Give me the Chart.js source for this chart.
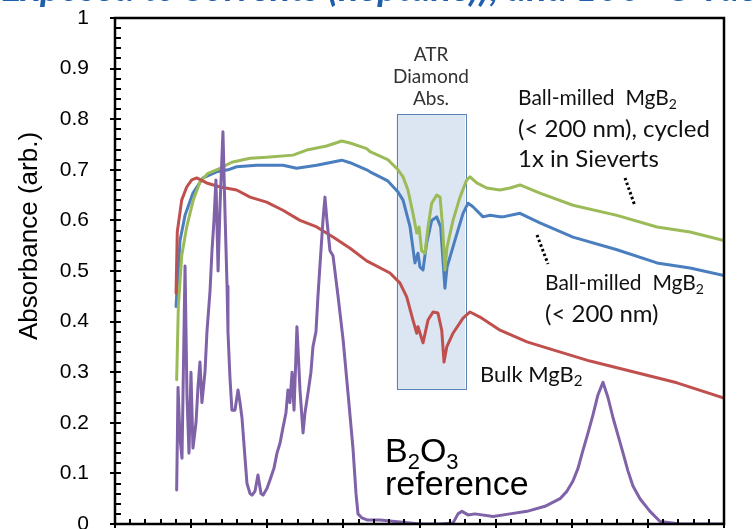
<!DOCTYPE html>
<html>
<head>
<meta charset="utf-8">
<script src="https://cdn.jsdelivr.net/npm/chart.js@4.4.0/dist/chart.umd.min.js"></script>
<style>
  html, body { margin: 0; padding: 0; background: #fff; overflow: hidden; }
</style>
</head>
<body>
<canvas id="myChart" width="755" height="529"></canvas>
<script>
// ---- spectra: wavenumber (cm-1) and absorbance (arb.) ----
const cycledWn = [405, 416, 438, 471, 514, 558, 611, 690, 767, 887, 996, 1169, 1259, 1390, 1489, 1544, 1653, 1675, 1792, 1859, 1892, 1924, 1957, 1982, 1997, 2014, 2036, 2056, 2080, 2113, 2135, 2152, 2167, 2181, 2220, 2266, 2310, 2332, 2376, 2441, 2529, 2594, 2660, 2791, 3008, 3297, 3560, 3777, 4000];
const cycledAbs = [0.285, 0.43, 0.53, 0.587, 0.64, 0.676, 0.693, 0.703, 0.715, 0.723, 0.725, 0.729, 0.739, 0.747, 0.757, 0.753, 0.742, 0.736, 0.72, 0.70, 0.686, 0.66, 0.614, 0.575, 0.587, 0.54, 0.535, 0.587, 0.634, 0.65, 0.646, 0.587, 0.502, 0.547, 0.60, 0.646, 0.68, 0.686, 0.674, 0.664, 0.66, 0.664, 0.670, 0.654, 0.63, 0.61, 0.587, 0.577, 0.56];

const milledWn = [401, 427, 460, 512, 578, 668, 742, 799, 931, 1103, 1193, 1325, 1489, 1544, 1653, 1675, 1792, 1859, 1892, 1938, 1970, 1990, 2003, 2023, 2047, 2080, 2113, 2139, 2154, 2167, 2181, 2233, 2286, 2319, 2351, 2417, 2463, 2529, 2548, 2660, 2791, 3008, 3297, 3560, 3777, 4000];
const milledAbs = [0.43, 0.56, 0.61, 0.654, 0.684, 0.696, 0.70, 0.706, 0.709, 0.709, 0.703, 0.709, 0.719, 0.714, 0.70, 0.696, 0.678, 0.656, 0.64, 0.587, 0.516, 0.535, 0.508, 0.502, 0.555, 0.60, 0.607, 0.587, 0.522, 0.466, 0.508, 0.561, 0.614, 0.634, 0.627, 0.607, 0.61, 0.607, 0.607, 0.614, 0.595, 0.567, 0.542, 0.516, 0.506, 0.491];

const bulkWn = [401, 409, 438, 471, 504, 537, 602, 690, 799, 887, 996, 1103, 1215, 1325, 1432, 1544, 1653, 1806, 1872, 1916, 1957, 1982, 1990, 2023, 2056, 2089, 2121, 2146, 2161, 2179, 2220, 2286, 2332, 2397, 2529, 2706, 2877, 3120, 3363, 3691, 4000];
const bulkAbs = [0.456, 0.577, 0.64, 0.666, 0.68, 0.684, 0.674, 0.666, 0.66, 0.646, 0.636, 0.62, 0.60, 0.587, 0.567, 0.545, 0.52, 0.496, 0.476, 0.449, 0.403, 0.377, 0.39, 0.358, 0.403, 0.419, 0.417, 0.383, 0.32, 0.35, 0.377, 0.407, 0.419, 0.409, 0.383, 0.36, 0.344, 0.322, 0.304, 0.279, 0.249];

const b2o3Wn = [405, 414, 427, 440, 460, 473, 486, 499, 512, 532, 545, 558, 571, 591, 604, 624, 637, 650, 663, 677, 690, 709, 723, 736, 742, 755, 768, 788, 808, 821, 834, 854, 867, 887, 900, 920, 939, 959, 972, 998, 1018, 1044, 1064, 1084, 1103, 1123, 1136, 1149, 1163, 1176, 1195, 1215, 1235, 1248, 1268, 1287, 1300, 1320, 1333, 1346, 1366, 1379, 1392, 1412, 1432, 1465, 1498, 1530, 1563, 1583, 1596, 1622, 1655, 1740, 1839, 1905, 2003, 2135, 2220, 2253, 2279, 2319, 2364, 2483, 2594, 2706, 2824, 2923, 2969, 3008, 3041, 3074, 3107, 3139, 3172, 3205, 3238, 3271, 3304, 3337, 3369, 3402, 3448, 3514, 3580, 3711, 4000];
const b2o3Abs = [0.067, 0.27, 0.17, 0.13, 0.51, 0.25, 0.14, 0.30, 0.15, 0.20, 0.27, 0.32, 0.24, 0.30, 0.38, 0.46, 0.54, 0.60, 0.68, 0.50, 0.63, 0.775, 0.61, 0.47, 0.38, 0.29, 0.225, 0.225, 0.265, 0.24, 0.21, 0.13, 0.08, 0.06, 0.057, 0.065, 0.097, 0.06, 0.057, 0.07, 0.087, 0.11, 0.14, 0.16, 0.19, 0.22, 0.265, 0.24, 0.30, 0.225, 0.39, 0.265, 0.18, 0.22, 0.26, 0.30, 0.35, 0.38, 0.45, 0.51, 0.60, 0.646, 0.60, 0.54, 0.53, 0.45, 0.365, 0.26, 0.15, 0.06, 0.02, 0.012, 0.008, 0.008, 0.005, 0.003, 0, 0, 0.002, 0.02, 0.025, 0.018, 0.02, 0.015, 0.02, 0.025, 0.035, 0.05, 0.065, 0.085, 0.11, 0.146, 0.18, 0.215, 0.255, 0.28, 0.25, 0.21, 0.175, 0.14, 0.105, 0.075, 0.05, 0.025, 0.005, 0, 0];

// y tick labels and the diamond absorption band
const yTicks = [0, 0.1, 0.2, 0.3, 0.4, 0.5, 0.6, 0.7, 0.8, 0.9, 1];
const atrBand = [1850, 2300];
const atrAbsRange = [0.267, 0.81];

function pairs(xs, ys) {
    return xs.map((x, i) => ({ x: x, y: ys[i] }));
}

// draws a string made of normal and subscript pieces
function drawRich(ctx, parts, x, y, size, family) {
    let cx = x;
    parts.forEach(p => {
        const sub = p[1];
        ctx.font = (sub ? Math.round(size * 0.66) : size) + 'px ' + family;
        ctx.fillText(p[0], cx, sub ? y + size * 0.2 : y);
        cx += ctx.measureText(p[0]).width;
    });
}

const decorPlugin = {
    id: 'decor',
    beforeDatasetsDraw(chart) {
        const ctx = chart.ctx;
        const xs = chart.scales.x, ys = chart.scales.y;
        const x0 = xs.getPixelForValue(atrBand[0]), x1 = xs.getPixelForValue(atrBand[1]);
        const y0 = ys.getPixelForValue(atrAbsRange[1]), y1 = ys.getPixelForValue(atrAbsRange[0]);
        ctx.save();
        ctx.fillStyle = '#dce6f2';
        ctx.fillRect(x0, y0, x1 - x0, y1 - y0);
        ctx.strokeStyle = '#5a80b4';
        ctx.lineWidth = 1;
        ctx.strokeRect(Math.round(x0) + 0.5, Math.round(y0) + 0.5, Math.round(x1 - x0), Math.round(y1 - y0));
        ctx.restore();
    },
    afterDatasetsDraw(chart) {
        const ctx = chart.ctx;
        const a = chart.chartArea;
        const xs = chart.scales.x, ys = chart.scales.y;
        ctx.save();
        ctx.strokeStyle = '#000';
        // plot frame
        ctx.lineWidth = 2.5;
        ctx.strokeRect(a.left, a.top, a.right - a.left, a.bottom - a.top);
        // tick marks
        ctx.lineWidth = 2;
        ctx.beginPath();
        for (let v = 0; v <= 100; v += 2) {
            const py = Math.round(ys.getPixelForValue(v / 100));
            const major = v % 10 === 0;
            ctx.moveTo(a.left - (major ? 5 : 0), py);
            ctx.lineTo(a.left + 6, py);
        }
        for (let w = 0; w <= 4000; w += 100) {
            const px = Math.round(xs.getPixelForValue(w));
            const major = w % 500 === 0;
            ctx.moveTo(px, a.bottom + (major ? 4 : 0));
            ctx.lineTo(px, a.bottom - 5);
        }
        ctx.stroke();
        ctx.restore();
    },
    afterDraw(chart) {
        const ctx = chart.ctx;
        const calibri = 'Lato, "Open Sans", sans-serif';
        const arial = '"Liberation Sans", Arial, sans-serif';
        ctx.save();
        ctx.textBaseline = 'alphabetic';

        // slide heading running off the top edge
        ctx.fillStyle = '#1f5fab';
        ctx.font = 'bold italic 38px ' + calibri;
        ctx.textAlign = 'right';
        ctx.fillText('Exposed to Solvents ', 328, 1);
        ctx.textAlign = 'left';
        ctx.fillText('(heptane)), and 100 \u00B0C Vacuum', 328, 1);

        // y axis title
        ctx.save();
        ctx.translate(37, 236);
        ctx.rotate(-Math.PI / 2);
        ctx.textAlign = 'center';
        ctx.fillStyle = '#000';
        ctx.font = '26px ' + arial;
        ctx.fillText('Absorbance (arb.)', 0, 0);
        ctx.restore();

        // band label
        ctx.fillStyle = '#333';
        ctx.textAlign = 'center';
        ctx.font = '19px ' + calibri;
        ctx.fillText('ATR', 431, 61);
        ctx.fillText('Diamond', 431, 83);
        ctx.fillText('Abs.', 431, 105);

        // curve labels
        ctx.fillStyle = '#111';
        ctx.textAlign = 'left';
        drawRich(ctx, [['Ball-milled  MgB', false], ['2', true]], 518, 105, 21, calibri);
        drawRich(ctx, [['(< 200 nm), cycled', false]], 518, 137, 24, calibri);
        drawRich(ctx, [['1x in Sieverts', false]], 518, 167, 24, calibri);
        drawRich(ctx, [['Ball-milled  MgB', false], ['2', true]], 545, 290, 21, calibri);
        drawRich(ctx, [['(< 200 nm)', false]], 545, 322, 24, calibri);
        drawRich(ctx, [['Bulk MgB', false], ['2', true]], 480, 382, 22, calibri);

        ctx.fillStyle = '#000';
        drawRich(ctx, [['B', false], ['2', true], ['O', false], ['3', true]], 385, 462, 34, arial);
        drawRich(ctx, [['reference', false]], 385, 495, 34, arial);

        // dotted leaders
        ctx.strokeStyle = '#000';
        ctx.lineWidth = 3;
        ctx.setLineDash([2.5, 2.5]);
        ctx.beginPath();
        ctx.moveTo(625, 178); ctx.lineTo(635, 206);
        ctx.moveTo(537, 235); ctx.lineTo(548, 264);
        ctx.stroke();
        ctx.restore();
    }
};

function loadSpectra() {
    const ctx = document.getElementById('myChart').getContext('2d');
    new Chart(ctx, {
        type: 'line',
        data: {
            datasets: [
                { label: 'B2O3 reference', data: pairs(b2o3Wn, b2o3Abs), borderColor: '#7f62a8' },
                { label: 'Bulk MgB2', data: pairs(bulkWn, bulkAbs), borderColor: '#c0504d' },
                { label: 'Ball-milled MgB2, cycled', data: pairs(cycledWn, cycledAbs), borderColor: '#9bbb59' },
                { label: 'Ball-milled MgB2', data: pairs(milledWn, milledAbs), borderColor: '#4a7ebf' }
            ]
        },
        options: {
            responsive: false,
            animation: false,
            elements: {
                point: { radius: 0 },
                line: { borderWidth: 3, tension: 0, borderJoinStyle: 'round', borderCapStyle: 'round' }
            },
            layout: { padding: { top: 18, right: 31, bottom: 0, left: 0 } },
            plugins: { legend: { display: false }, tooltip: { enabled: false } },
            scales: {
                x: {
                    type: 'linear',
                    min: 0,
                    max: 4000,
                    grid: { display: false },
                    border: { display: false },
                    ticks: { display: false },
                    afterFit: s => { s.height = 5; }
                },
                y: {
                    min: 0,
                    max: 1,
                    grid: { display: false },
                    border: { display: false },
                    afterBuildTicks: s => { s.ticks = yTicks.map(v => ({ value: v })); },
                    ticks: {
                        padding: 18,
                        color: '#000',
                        font: { family: '"Liberation Sans", Arial, sans-serif', size: 21 },
                        callback: v => String(Number(v.toFixed(1)))
                    },
                    afterFit: s => { s.width = 115; s.paddingTop = 0; s.paddingBottom = 0; }
                }
            }
        },
        plugins: [decorPlugin]
    });
}
document.addEventListener('DOMContentLoaded', loadSpectra);
</script>
</body>
</html>
